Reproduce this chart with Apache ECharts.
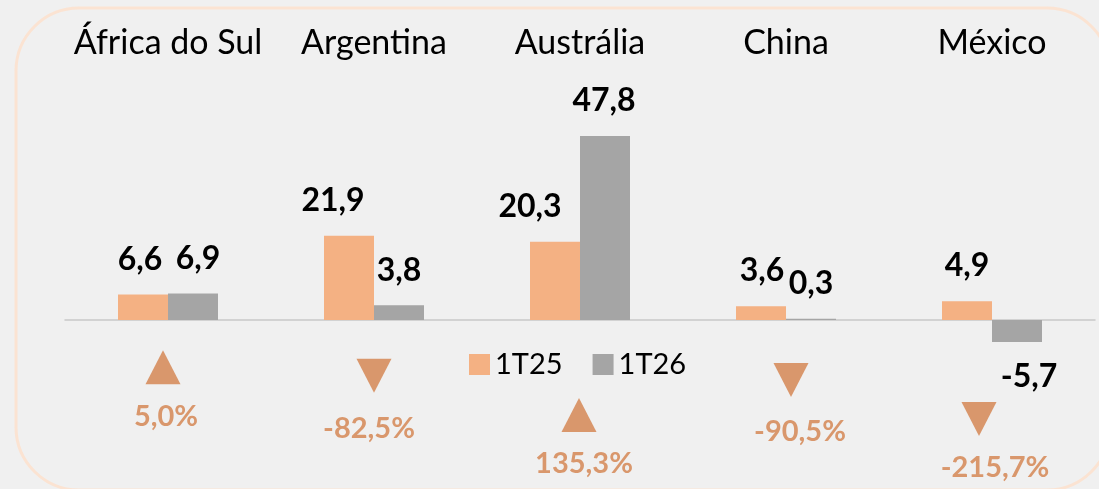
<!DOCTYPE html>
<html>
<head>
<meta charset="utf-8">
<script src="https://cdn.jsdelivr.net/npm/echarts@6/dist/echarts.min.js"></script>
<style>
  html, body { margin: 0; padding: 0; background: #F0F0F0; }
  #main { width: 1099px; height: 489px; }
</style>
</head>
<body>
<div id="main"></div>
<script>
// dados
var paises = ['África do Sul', 'Argentina', 'Austrália', 'China', 'México'];
var serieNomes = ['1T25', '1T26'];
var valores1T25 = [6.6, 21.9, 20.3, 3.6, 4.9];
var valores1T26 = [6.9, 3.8, 47.8, 0.3, -5.7];
var variacao = ['5,0%', '-82,5%', '135,3%', '-90,5%', '-215,7%'];

// posicoes das setas e rotulos (em unidades do eixo)
var setaY = [-12.3, -14.5, -24.7, -15.6, -25.7];
var setaDx = [-5, 0, -1, 5, -13];
var pctY = [-25.2, -28.1, -37.4, -29.1, -38.4];
var pctDx = [-2, -5, 4, 14, 3];
var rot1Dx = [-3, -16, -25, 1, 0];
var rot2Dx = [5, 0, -1, 0, 12];

var corLaranja = '#F4B183'
  ,corCinza = '#A5A5A5'
  ,corSeta = '#D9976C';

var fmt = function(v){ return v.toFixed(1).replace('.', ','); };

var barData = function(vals, dx){
  return vals.map(function(v, i){
    return {
      value: v,
      label: { position: v < 0 ? 'bottom' : 'top', offset: [dx[i], 0] }
    };
  });
};

var chart = echarts.init(document.getElementById('main'), null, { renderer: 'canvas' });

var option = {
  backgroundColor: '#F0F0F0',
  animation: false,
  textStyle: { fontFamily: 'Lato' },
  graphic: [{
    type: 'rect',
    shape: { x: 16, y: 8, width: 1094, height: 482, r: 63 },
    style: { fill: 'none', stroke: '#FBE3D2', lineWidth: 3 },
    silent: true
  }],
  legend: {
    data: serieNomes,
    left: 464,
    top: 345,
    itemWidth: 21,
    itemHeight: 21,
    itemGap: 30,
    itemTextGap: 11,
    icon: 'rect',
    textStyle: { fontFamily: 'Lato', fontSize: 29, color: '#000' }
  },
  grid: { left: 65, right: 4, top: 89, bottom: 15 },
  xAxis: [{
    type: 'category',
    data: paises,
    axisLine: { onZero: true, lineStyle: { color: '#C8C8C8', width: 1.5 } },
    axisTick: { show: false },
    axisLabel: { show: false }
  }, {
    type: 'category',
    data: paises,
    position: 'top',
    axisLine: { show: false },
    axisTick: { show: false },
    axisLabel: { interval: 0, fontFamily: 'Lato', fontSize: 34, color: '#000', margin: 29 }
  }],
  yAxis: {
    type: 'value',
    min: -40,
    max: 60,
    show: false,
    splitLine: { show: false }
  },
  series: [{
    name: serieNomes[0],
    type: 'bar',
    barWidth: 50,
    barGap: '0%',
    itemStyle: { color: corLaranja },
    label: {
      show: true, distance: 19,
      fontFamily: 'Lato', fontWeight: 'bold', fontSize: 32, color: '#000',
      formatter: function(p){ return fmt(p.value); }
    },
    data: barData(valores1T25, rot1Dx)
  }, {
    name: serieNomes[1],
    type: 'bar',
    barWidth: 50,
    barGap: '0%',
    itemStyle: { color: corCinza },
    label: {
      show: true, distance: 19,
      fontFamily: 'Lato', fontWeight: 'bold', fontSize: 32, color: '#000',
      formatter: function(p){ return fmt(p.value); }
    },
    data: barData(valores1T26, rot2Dx)
  }, {
    // setas de variacao
    type: 'scatter',
    symbol: 'triangle',
    symbolSize: [35, 34],
    itemStyle: { color: corSeta, opacity: 1 },
    silent: true,
    data: setaY.map(function(y, i){
      var desce = variacao[i].charAt(0) === '-';
      return { value: [i, y], symbolRotate: desce ? 180 : 0, symbolOffset: [setaDx[i], 0] };
    })
  }, {
    // rotulos de variacao
    type: 'scatter',
    symbolSize: 1,
    itemStyle: { color: 'rgba(0,0,0,0)', opacity: 1 },
    silent: true,
    label: {
      show: true, position: 'inside', opacity: 1,
      fontFamily: 'Lato', fontWeight: 'bold', fontSize: 29, color: corSeta,
      formatter: function(p){ return variacao[p.dataIndex]; }
    },
    data: pctY.map(function(y, i){
      return { value: [i, y], label: { offset: [pctDx[i], 0] } };
    })
  }]
};

chart.setOption(option);
</script>
</body>
</html>
